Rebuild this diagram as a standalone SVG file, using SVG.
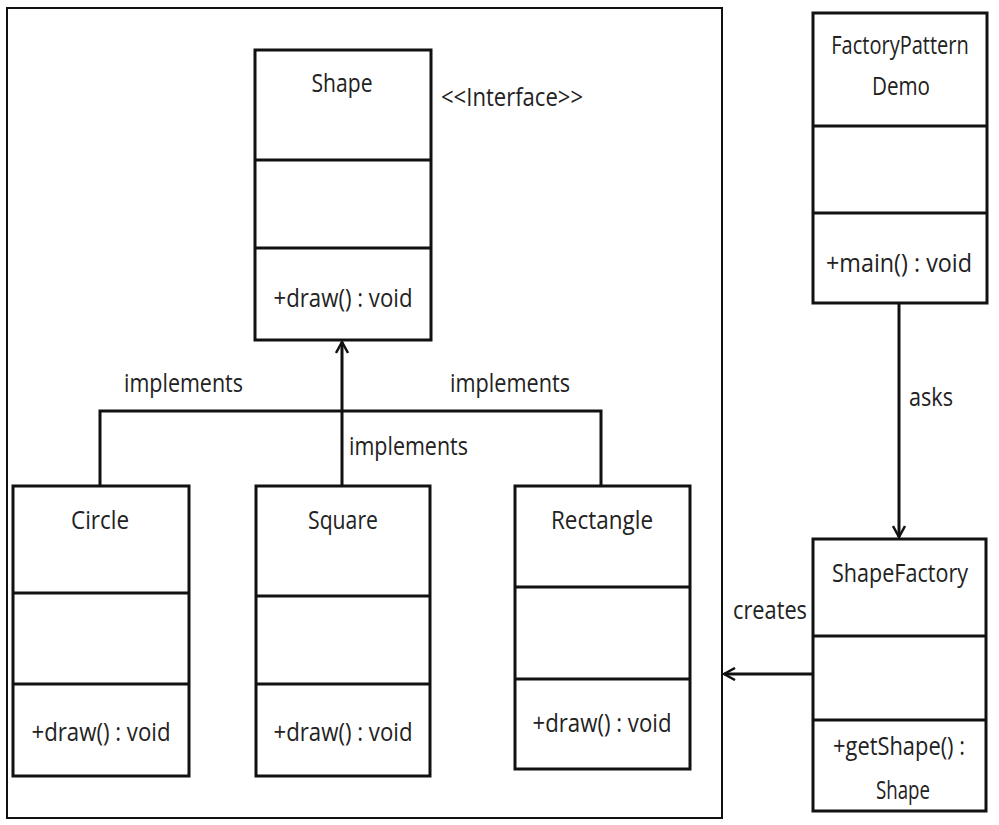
<svg xmlns="http://www.w3.org/2000/svg" width="999" height="825" viewBox="0 0 999 825">
<defs>
<style>
.box{fill:#fff;stroke:#111;stroke-width:3}
.div{stroke:#111;stroke-width:3}
.t{font-family:"Open Sans","Noto Sans","Liberation Sans",sans-serif;font-size:26px;fill:#222;text-anchor:middle}
.tl{font-family:"Open Sans","Noto Sans","Liberation Sans",sans-serif;font-size:26px;fill:#222;text-anchor:start}
.c{fill:none;stroke:#111;stroke-width:3}
</style>
<marker id="arr" viewBox="0 0 14 14" refX="12" refY="7" markerWidth="14" markerHeight="14" markerUnits="userSpaceOnUse" orient="auto">
<path d="M1,1 L12,7 L1,13" fill="none" stroke="#111" stroke-width="2.5"/>
</marker>
</defs>
<rect width="999" height="825" fill="#fff"/>
<rect id="frame" x="7" y="8" width="715" height="810" fill="none" stroke="#111" stroke-width="2"/>

<g id="connectors">
<path class="c" d="M100,486 V411 H601 V486"/>
<path class="c" d="M342,486 V342" marker-end="url(#arr)"/>
<path class="c" d="M899,303 V537" marker-end="url(#arr)"/>
<path class="c" d="M813,674 H724" marker-end="url(#arr)"/>
<text class="tl" x="124" y="392" textLength="119" lengthAdjust="spacingAndGlyphs">implements</text>
<text class="tl" x="450" y="392" textLength="120" lengthAdjust="spacingAndGlyphs">implements</text>
<text class="tl" x="349" y="455" textLength="119" lengthAdjust="spacingAndGlyphs">implements</text>
<text class="tl" x="909" y="406" textLength="44" lengthAdjust="spacingAndGlyphs">asks</text>
<text class="tl" x="733" y="619" textLength="74" lengthAdjust="spacingAndGlyphs">creates</text>
</g>

<g id="shape">
<rect class="box" x="255" y="50" width="176" height="290"/>
<line class="div" x1="255" y1="160" x2="431" y2="160"/>
<line class="div" x1="255" y1="248" x2="431" y2="248"/>
<text class="t" x="342" y="92" textLength="61" lengthAdjust="spacingAndGlyphs">Shape</text>
<text class="t" x="343" y="307" textLength="139" lengthAdjust="spacingAndGlyphs">+draw() : void</text>
<text class="tl" x="441" y="106" textLength="142" lengthAdjust="spacingAndGlyphs">&lt;&lt;Interface&gt;&gt;</text>
</g>

<g id="circle">
<rect class="box" x="13" y="486" width="176" height="290"/>
<line class="div" x1="13" y1="593" x2="189" y2="593"/>
<line class="div" x1="13" y1="684" x2="189" y2="684"/>
<text class="t" x="100" y="529" textLength="58" lengthAdjust="spacingAndGlyphs">Circle</text>
<text class="t" x="101" y="741" textLength="139" lengthAdjust="spacingAndGlyphs">+draw() : void</text>
</g>

<g id="square">
<rect class="box" x="256" y="486" width="174" height="290"/>
<line class="div" x1="256" y1="596" x2="430" y2="596"/>
<line class="div" x1="256" y1="684" x2="430" y2="684"/>
<text class="t" x="343" y="529" textLength="70" lengthAdjust="spacingAndGlyphs">Square</text>
<text class="t" x="343" y="741" textLength="139" lengthAdjust="spacingAndGlyphs">+draw() : void</text>
</g>

<g id="rectangle">
<rect class="box" x="515" y="486" width="175" height="283"/>
<line class="div" x1="515" y1="587" x2="690" y2="587"/>
<line class="div" x1="515" y1="679" x2="690" y2="679"/>
<text class="t" x="602" y="529" textLength="102" lengthAdjust="spacingAndGlyphs">Rectangle</text>
<text class="t" x="602" y="732" textLength="139" lengthAdjust="spacingAndGlyphs">+draw() : void</text>
</g>

<g id="factoryPatternDemo">
<rect class="box" x="813" y="13" width="174" height="290"/>
<line class="div" x1="813" y1="126" x2="987" y2="126"/>
<line class="div" x1="813" y1="213" x2="987" y2="213"/>
<text class="t" transform="translate(900 54) scale(0.77 1)" x="0" y="0">FactoryPattern</text>
<text class="t" x="901" y="95" textLength="58" lengthAdjust="spacingAndGlyphs">Demo</text>
<text class="t" x="899" y="272" textLength="146" lengthAdjust="spacingAndGlyphs">+main() : void</text>
</g>

<g id="shapeFactory">
<rect class="box" x="813" y="539" width="173" height="272"/>
<line class="div" x1="813" y1="636" x2="986" y2="636"/>
<line class="div" x1="813" y1="720" x2="986" y2="720"/>
<text class="t" x="900" y="582" textLength="136" lengthAdjust="spacingAndGlyphs">ShapeFactory</text>
<text class="t" x="899" y="755" textLength="132" lengthAdjust="spacingAndGlyphs">+getShape() :</text>
<text class="t" x="903" y="799" textLength="54" lengthAdjust="spacingAndGlyphs">Shape</text>
</g>
</svg>
